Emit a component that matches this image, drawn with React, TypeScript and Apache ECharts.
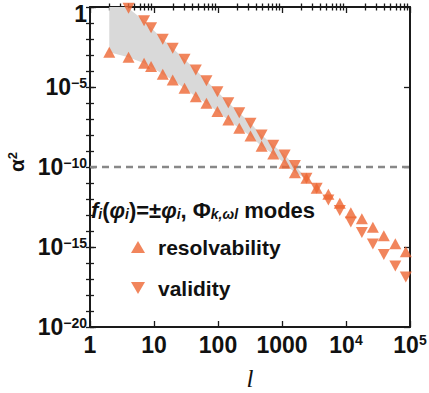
import React, { useEffect, useRef } from 'react';
import * as echarts from 'echarts';

// multipole index l
const ELL = [2, 4, 7, 9, 13.7, 19.6, 30, 45, 66, 98, 145, 215, 322, 480, 730, 1100, 1590, 2410, 3480, 5300, 8000, 11900, 17700, 26300, 39000, 59000, 86000];
// alpha^2 bound from resolvability
const RESOLVABILITY = [1.5e-3, 7.2e-4, 3.0e-4, 1.9e-4, 6.2e-5, 2.7e-5, 8.3e-6, 2.5e-6, 9.6e-7, 2.9e-7, 8.7e-8, 2.6e-8, 8.7e-9, 2.0e-9, 6.5e-10, 1.7e-10, 4.3e-11, 2.0e-11, 4.7e-12, 2.0e-12, 5.4e-13, 1.4e-13, 5.8e-14, 1.7e-14, 5.0e-15, 1.6e-15, 5.1e-16];
// alpha^2 bound from validity
const VALIDITY = [30, 0.85, 0.14, 0.051, 9.6e-3, 2.6e-3, 5.4e-4, 1.15e-4, 2.5e-5, 5.1e-6, 1.05e-6, 2.5e-7, 5.4e-8, 1.0e-8, 2.3e-9, 5.6e-10, 1.25e-10, 2.0e-11, 4.7e-12, 8.7e-13, 1.9e-13, 3.6e-14, 8.1e-15, 1.54e-15, 3.4e-16, 6.5e-17, 1.33e-17];
const THRESHOLD = 1e-10;
const X_RANGE = [1, 1e5];
const Y_RANGE = [1e-20, 1];
const X_TICK_LABELS = ['{b|1}', '{b|10}', '{b|100}', '{b|1000}', '{b|10}{s|4}', '{b|10}{s|5}'];
const Y_TICK_LABELS: Record<string, string> = {
  '0': '{one|1}',
  '-5': '{b|10}{s|−5}',
  '-10': '{b|10}{s|−10}',
  '-15': '{b|10}{s|−15}',
  '-20': '{b|10}{s|−20}',
};
const SERIES_NAMES = ['resolvability', 'validity'];
const TITLE = '{it|f}{si|i}{n|(}{it|φ}{si|i}{n|)=±}{it|φ}{si|i}{n|, Φ}{si|k,ωl}{n| modes}';

const lg = Math.log10;
const FONT = "'Liberation Sans', Arial, Helvetica, sans-serif";
const ORANGE = '#EE6633';
const AX = '#1a1a1a';
const TXT = '#111111';

export default function App() {
  const ref = useRef<HTMLDivElement>(null);
  useEffect(() => {
    if (!ref.current) return;
    const chart = echarts.init(ref.current, undefined, { renderer: 'svg' });

    const minorX: number[] = [];
    for (let n = Math.round(lg(X_RANGE[0])); n < Math.round(lg(X_RANGE[1])); n++) {
      for (let k = 2; k <= 9; k++) minorX.push(lg(k * Math.pow(10, n)));
    }
    // index where validity no longer exceeds resolvability
    let cross = VALIDITY.findIndex((v, i) => v <= RESOLVABILITY[i]);
    if (cross < 0) cross = ELL.length - 1;

    const richTick = {
      b: { fontSize: 23, lineHeight: 23, fontWeight: 'bold', fontFamily: FONT, color: TXT, verticalAlign: 'top' },
      s: { fontSize: 14, lineHeight: 14, fontWeight: 'bold', fontFamily: FONT, color: TXT, verticalAlign: 'top' },
      one: { fontSize: 23, lineHeight: 23, fontWeight: 'bold', fontFamily: FONT, color: TXT, padding: [14, 0, 0, 0] },
    };
    const lineStyle = { color: AX, width: 2 };
    const tickStyle = { color: AX, width: 1.3 };
    const xBase = { type: 'value', min: lg(X_RANGE[0]), max: lg(X_RANGE[1]), splitLine: { show: false } };
    const yBase = { type: 'value', min: lg(Y_RANGE[0]), max: lg(Y_RANGE[1]), splitLine: { show: false } };

    const option: any = {
      animation: false,
      backgroundColor: '#ffffff',
      grid: { left: 90, right: 19, top: 7, height: 320, containLabel: false, outerBoundsMode: 'none' },
      xAxis: [
        {
          ...xBase, position: 'bottom', interval: 1,
          axisLine: { show: true, onZero: false, lineStyle },
          axisTick: { show: true, inside: true, length: 6, lineStyle: tickStyle },
          axisLabel: { show: true, margin: 6, formatter: (v: number) => X_TICK_LABELS[Math.round(v)] || '', rich: richTick },
          name: 'l', nameLocation: 'middle', nameGap: 39,
          nameTextStyle: { fontFamily: "'Liberation Serif', serif", fontStyle: 'italic', fontSize: 25, lineHeight: 24, color: TXT },
        },
        {
          ...xBase, position: 'bottom',
          axisLine: { show: false },
          axisTick: { show: true, inside: true, length: 3.5, customValues: minorX, lineStyle: tickStyle },
          axisLabel: { show: false },
        },
        {
          ...xBase, position: 'top', interval: 1,
          axisLine: { show: true, onZero: false, lineStyle },
          axisTick: { show: true, inside: true, length: 6, lineStyle: tickStyle },
          axisLabel: { show: false },
        },
        {
          ...xBase, position: 'top',
          axisLine: { show: false },
          axisTick: { show: true, inside: true, length: 3.5, customValues: minorX, lineStyle: tickStyle },
          axisLabel: { show: false },
        },
      ],
      yAxis: [
        {
          ...yBase, position: 'left', interval: 5,
          axisLine: { show: true, onZero: false, lineStyle },
          axisTick: { show: true, inside: true, length: 6, lineStyle: tickStyle },
          axisLabel: { show: true, margin: 3, formatter: (v: number) => Y_TICK_LABELS[String(Math.round(v))] || '', rich: richTick },
          name: '{a|α}{s|2}', nameLocation: 'middle', nameGap: 61, nameRotate: 90,
          nameTextStyle: {
            padding: [0, 0, 0, 10],
            rich: {
              a: { fontSize: 21, lineHeight: 22, fontWeight: 'bold', fontFamily: FONT, color: TXT, verticalAlign: 'top' },
              s: { fontSize: 13, lineHeight: 13, fontWeight: 'bold', fontFamily: FONT, color: TXT, verticalAlign: 'top' },
            },
          },
        },
        {
          ...yBase, position: 'left', interval: 1,
          axisLine: { show: false },
          axisTick: { show: true, inside: true, length: 4, lineStyle: tickStyle },
          axisLabel: { show: false },
        },
        {
          ...yBase, position: 'right', interval: 5,
          axisLine: { show: true, onZero: false, lineStyle },
          axisTick: { show: true, inside: true, length: 6, lineStyle: tickStyle },
          axisLabel: { show: false },
        },
        {
          ...yBase, position: 'right', interval: 1,
          axisLine: { show: false },
          axisTick: { show: true, inside: true, length: 4, lineStyle: tickStyle },
          axisLabel: { show: false },
        },
      ],
      legend: {
        orient: 'vertical', left: 126, top: 230, itemWidth: 14, itemHeight: 12, itemGap: 17,
        selectedMode: false,
        data: [
          { name: SERIES_NAMES[0], icon: 'triangle' },
          { name: SERIES_NAMES[1], icon: 'path://M0,0L14,0L7,12Z' },
        ],
        textStyle: { fontSize: 21, lineHeight: 24, fontWeight: 'bold', fontFamily: FONT, color: TXT, padding: [0, 0, 0, 8] },
      },
      graphic: [
        {
          type: 'text', left: 91, top: 197, silent: true, z: 100,
          style: {
            text: TITLE,
            fill: TXT,
            rich: {
              n: { fontSize: 22, lineHeight: 22, fontWeight: 'bold', fontFamily: FONT, fill: TXT, verticalAlign: 'top' },
              it: { fontSize: 22, lineHeight: 22, fontWeight: 'bold', fontStyle: 'italic', fontFamily: FONT, fill: TXT, verticalAlign: 'top' },
              si: { fontSize: 14, lineHeight: 14, fontWeight: 'bold', fontStyle: 'italic', fontFamily: FONT, fill: TXT, verticalAlign: 'bottom', padding: [10, 0, 0, 0] },
            },
          },
        },
      ],
      series: [
        {
          type: 'custom', xAxisIndex: 0, yAxisIndex: 0, clip: true, silent: true, z: 1,
          data: [[lg(X_RANGE[0]), lg(Y_RANGE[0])]],
          renderItem: (_p: any, api: any) => {
            const pts: number[][] = [];
            for (let i = 0; i <= cross; i++) pts.push(api.coord([lg(ELL[i]), lg(RESOLVABILITY[i])]));
            for (let i = cross; i >= 0; i--) pts.push(api.coord([lg(ELL[i]), lg(VALIDITY[i])]));
            return { type: 'polygon', shape: { points: pts }, style: { fill: '#d9d9d9' } };
          },
        },
        {
          type: 'line', xAxisIndex: 0, yAxisIndex: 0, silent: true, z: 2,
          data: [[lg(X_RANGE[0]), lg(THRESHOLD)], [lg(X_RANGE[1]), lg(THRESHOLD)]],
          symbol: 'none',
          lineStyle: { color: '#888888', width: 2.5, type: [7, 5] },
        },
        {
          type: 'scatter', name: SERIES_NAMES[0], xAxisIndex: 0, yAxisIndex: 0, z: 3,
          data: ELL.map((l, i) => [lg(l), lg(RESOLVABILITY[i])]),
          symbol: 'triangle', symbolSize: [12, 11],
          itemStyle: { color: ORANGE },
        },
        {
          type: 'scatter', name: SERIES_NAMES[1], xAxisIndex: 0, yAxisIndex: 0, z: 3,
          data: ELL.map((l, i) => [lg(l), lg(VALIDITY[i])]),
          symbol: 'triangle', symbolSize: [12, 11], symbolRotate: 180,
          itemStyle: { color: ORANGE },
        },
      ],
    };
    chart.setOption(option);
    return () => chart.dispose();
  }, []);
  return <div ref={ref} style={{ position: 'fixed', left: 0, top: 0, width: 429, height: 393, background: '#fff' }} />;
}
